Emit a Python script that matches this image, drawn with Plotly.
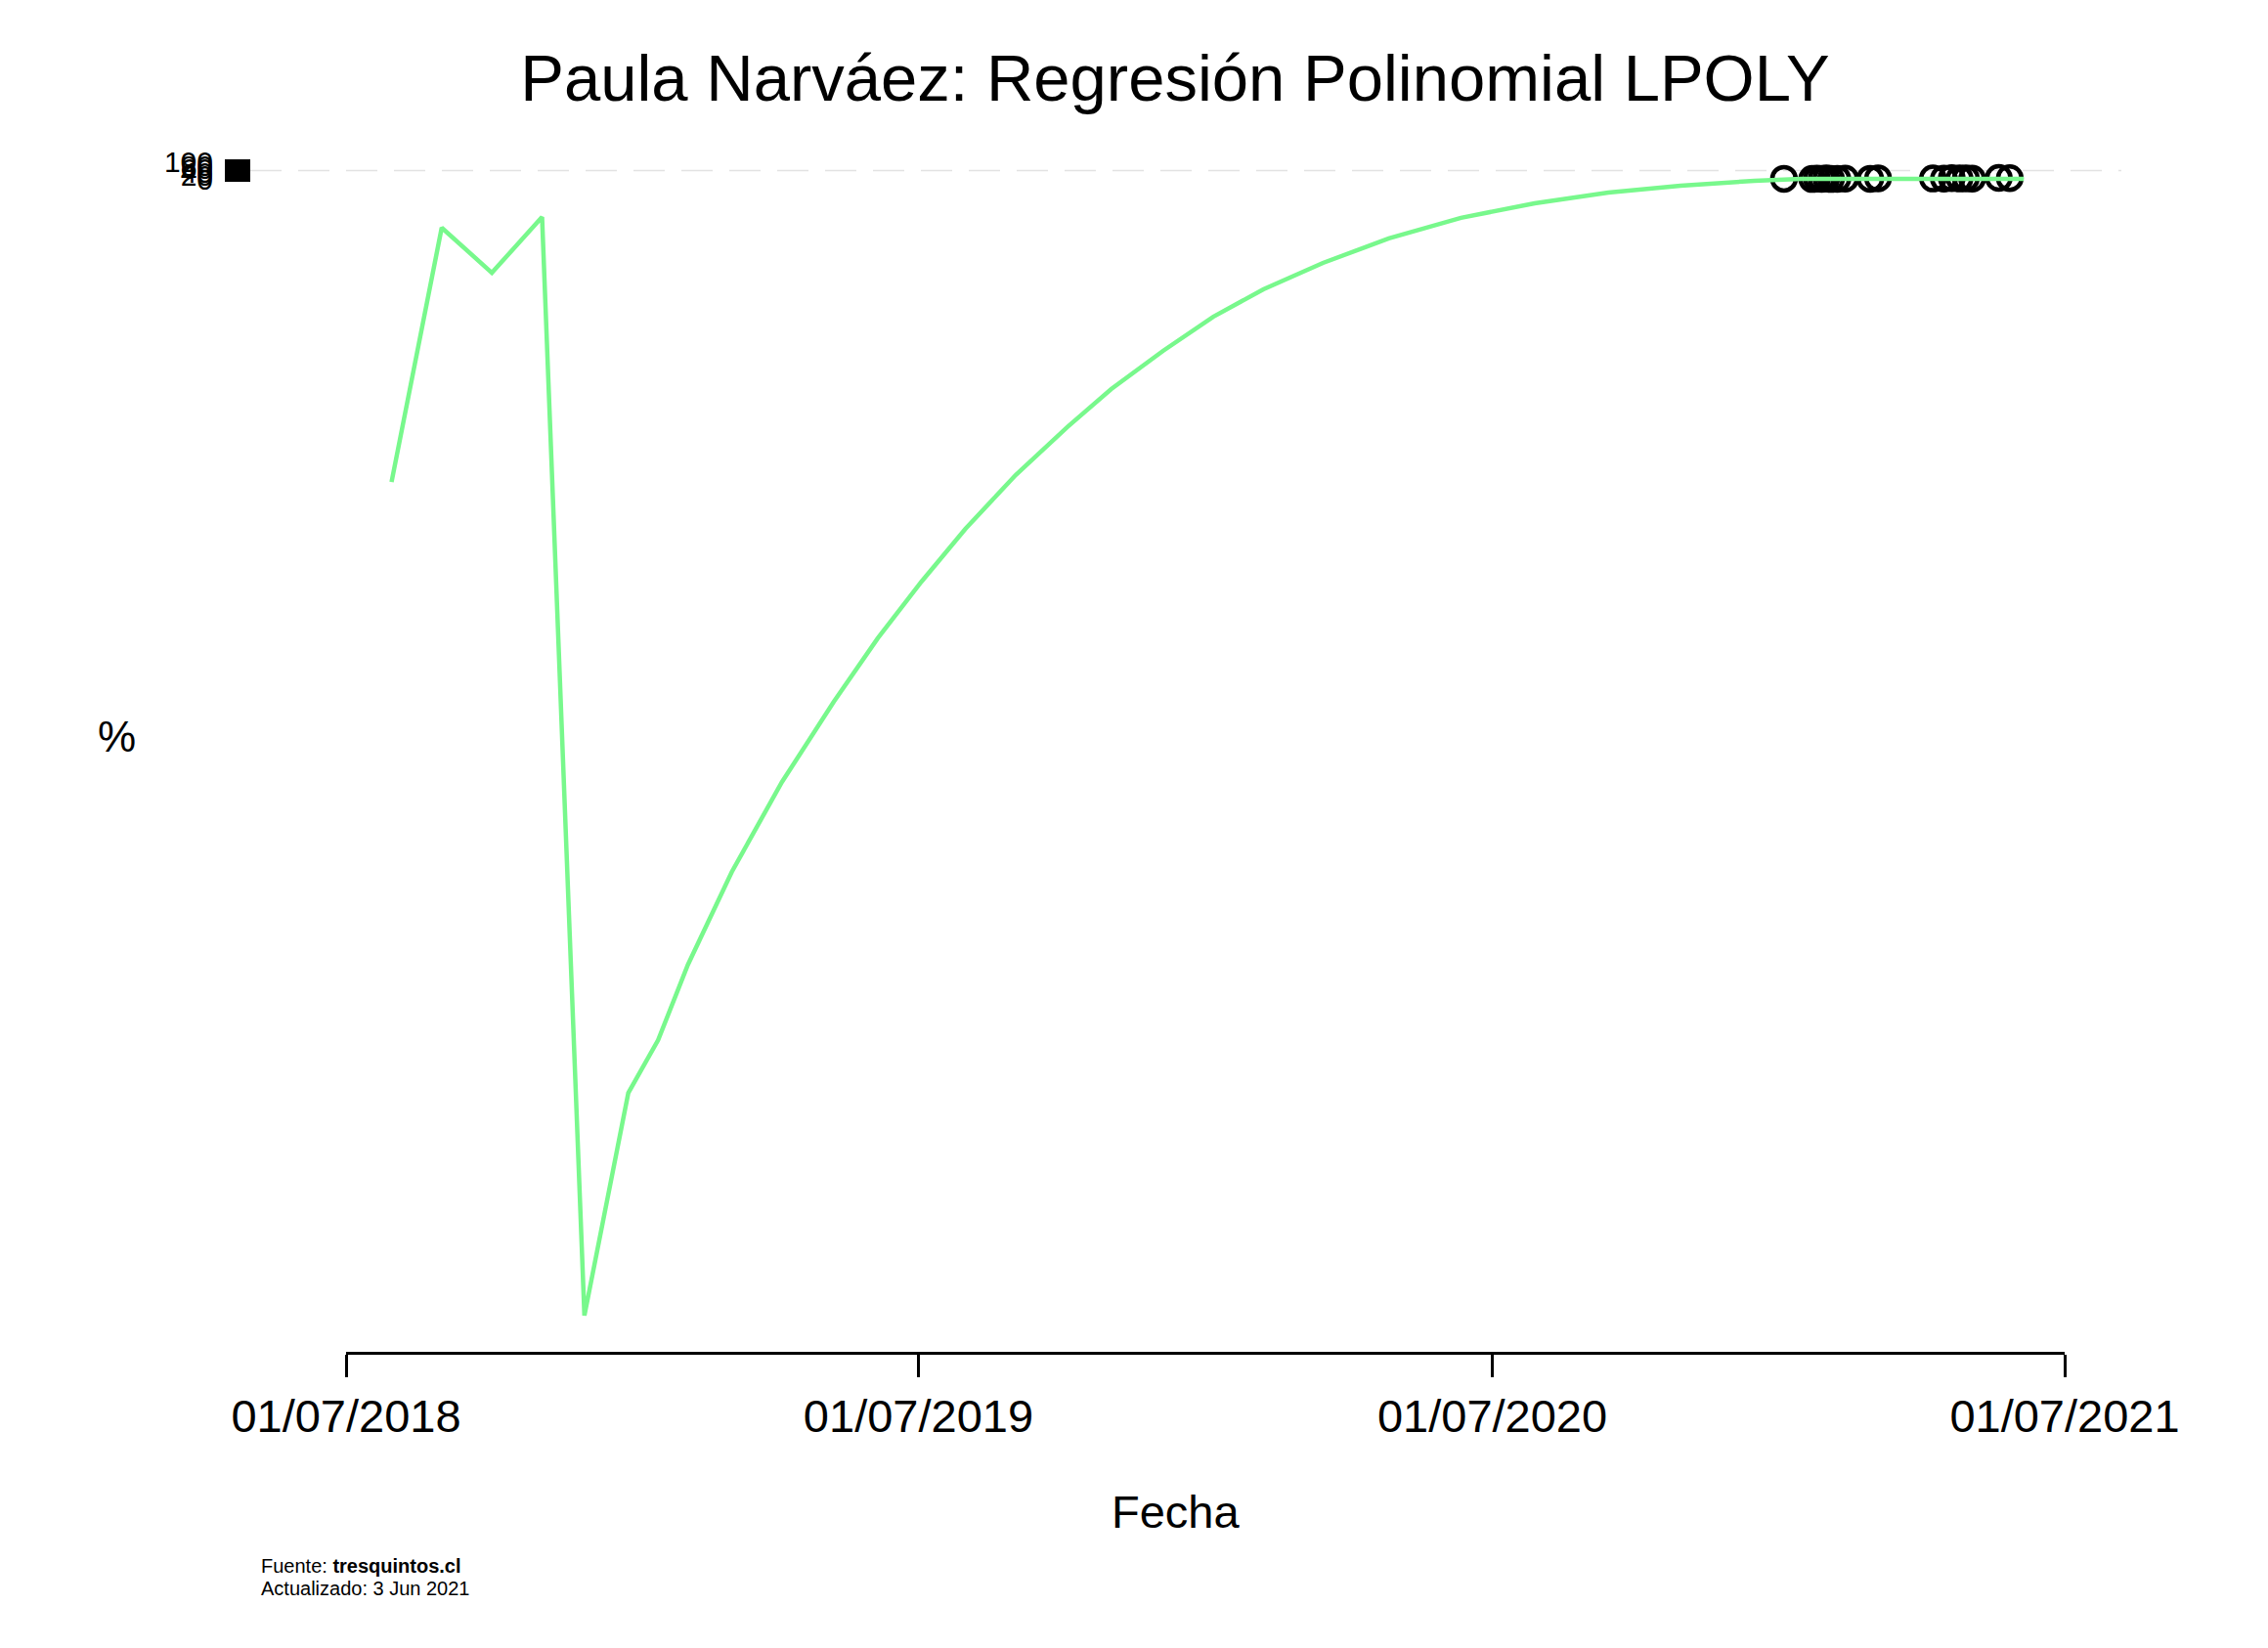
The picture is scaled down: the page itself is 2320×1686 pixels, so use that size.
import plotly.graph_objects as go

# Poll readings (open circles)
poll_dates = [
    "2021-01-03", "2021-01-21", "2021-01-24", "2021-01-27", "2021-01-30",
    "2021-02-02", "2021-02-06", "2021-02-11", "2021-02-27", "2021-03-04",
    "2021-04-08", "2021-04-15", "2021-04-20", "2021-04-25", "2021-04-29",
    "2021-05-03", "2021-05-20", "2021-05-27",
]
poll_values = [3, 2, 4, 3, 5, 2, 3, 4, 3, 6, 5, 4, 7, 5, 6, 4, 8, 7]

# LPOLY fit
fit_dates = [
    "2018-07-30", "2018-08-31", "2018-10-02", "2018-11-03", "2018-11-30",
    "2018-12-28", "2019-01-16", "2019-02-04", "2019-03-04", "2019-04-05",
    "2019-05-08", "2019-06-05", "2019-07-03", "2019-07-31", "2019-09-01",
    "2019-10-04", "2019-11-01", "2019-12-04", "2020-01-05", "2020-02-06",
    "2020-03-15", "2020-04-26", "2020-06-11", "2020-07-28", "2020-09-13",
    "2020-10-29", "2020-12-15", "2021-01-14", "2021-03-15", "2021-06-05",
]
fit_values = [
    -1720, -275, -531, -214, -6458,
    -5192, -4892, -4464, -3936, -3425,
    -2970, -2609, -2286, -1986, -1681,
    -1408, -1192, -975, -781, -625,
    -475, -336, -219, -136, -75,
    -36, -8, 2, 3, 3,
]

y_ticks = [0, 20, 40, 60, 80, 100]
x_ticks = ["2018-07-01", "2019-07-01", "2020-07-01", "2021-07-01"]
x_ticktext = ["01/07/2018", "01/07/2019", "01/07/2020", "01/07/2021"]

FONT = "Liberation Sans, Arial, Helvetica, sans-serif"
W, H = 2320, 1686
LEFT, RIGHT = 248, 2162  # plot area incl. offset y axis
AX_L, AX_R = 346, 2104  # x axis line ends
TOP, BOTTOM = 142, 1375

span = RIGHT - LEFT
tall = BOTTOM - TOP


def px_x(px):
    return (px - LEFT) / span


def px_y(py):
    return (BOTTOM - py) / tall


fig = go.Figure()

fig.add_trace(
    go.Scatter(
        x=poll_dates,
        y=poll_values,
        mode="markers",
        marker=dict(
            symbol="circle-open",
            size=24,
            color="black",
            line=dict(color="black", width=4.5),
        ),
        showlegend=False,
    )
)

fig.add_trace(
    go.Scatter(
        x=fit_dates,
        y=fit_values,
        mode="lines",
        line=dict(color="#78f88c", width=4.5),
        showlegend=False,
    )
)

fig.update_layout(
    width=W,
    height=H,
    paper_bgcolor="white",
    plot_bgcolor="white",
    margin=dict(l=LEFT, r=W - RIGHT, t=TOP, b=H - BOTTOM, pad=0),
    font=dict(family=FONT, color="black"),
    title=dict(
        text="Paula Narváez: Regresión Polinomial LPOLY",
        font=dict(size=67, family=FONT, color="black"),
        x=1194 / W,
        xref="container",
        xanchor="center",
        y=1 - 72 / H,
        yanchor="middle",
    ),
    xaxis=dict(
        domain=[px_x(AX_L), px_x(AX_R)],
        range=[x_ticks[0], x_ticks[-1]],
        tickvals=x_ticks,
        ticktext=x_ticktext,
        tickfont=dict(size=47),
        ticks="outside",
        ticklen=23,
        tickwidth=3,
        tickcolor="black",
        showline=True,
        linecolor="black",
        linewidth=3,
        showgrid=False,
        zeroline=False,
    ),
    yaxis=dict(
        range=[-6664, 186],
        tickvals=y_ticks,
        tickfont=dict(size=30),
        ticks="outside",
        ticklen=26,
        tickwidth=4.5,
        tickcolor="black",
        ticklabelstandoff=6,
        anchor="free",
        position=0,
        showline=False,
        showgrid=False,
        zeroline=False,
    ),
    showlegend=False,
)

# single dashed reference line near the top
fig.add_shape(
    type="line",
    xref="paper",
    yref="y",
    x0=0,
    x1=1,
    y0=50,
    y1=50,
    line=dict(color="#e2e2e2", width=1.5, dash="32px,17px"),
    layer="below",
)

fig.add_annotation(
    text="%", xref="paper", yref="paper",
    x=px_x(111), y=px_y(745),
    xanchor="center", yanchor="middle", showarrow=False,
    font=dict(size=44),
)
fig.add_annotation(
    text="Fecha", xref="paper", yref="paper",
    x=px_x(1194), y=px_y(1538),
    xanchor="center", yanchor="middle", showarrow=False,
    font=dict(size=47),
)
fig.add_annotation(
    text="Fuente: <b>tresquintos.cl</b>", xref="paper", yref="paper",
    x=px_x(257), y=px_y(1594),
    xanchor="left", yanchor="middle", showarrow=False,
    font=dict(size=20),
)
fig.add_annotation(
    text="Actualizado: 3 Jun 2021", xref="paper", yref="paper",
    x=px_x(257), y=px_y(1617),
    xanchor="left", yanchor="middle", showarrow=False,
    font=dict(size=20),
)

fig.write_html("out.html")
